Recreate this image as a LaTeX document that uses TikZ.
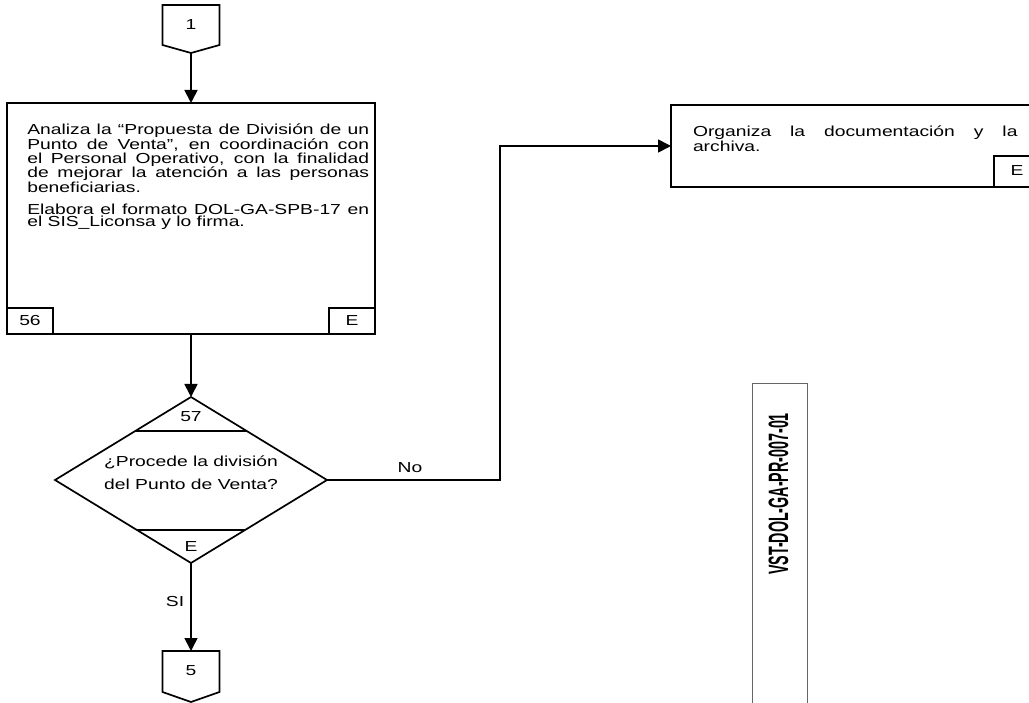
\documentclass[tikz,border=0pt]{standalone}
\usepackage{fontspec}
\setmainfont{Liberation Sans}
\usetikzlibrary{arrows.meta,shapes.geometric}
\newcommand{\hstr}[1]{\scalebox{1.33}[1]{#1}}
\tikzset{
 ln/.style={line width=1.7pt, draw=black, line join=miter},
 arr/.style={ln, -{Triangle[length=13pt,width=13pt]}},
 boxn/.style={ln, rectangle, inner sep=0pt, outer sep=0pt},
 txt/.style={inner sep=0pt, outer sep=0pt, text=black, font=\fontsize{14.5pt}{12pt}\selectfont},
}
\begin{document}
\begin{tikzpicture}[x=1pt,y=-1pt]
\useasboundingbox (0,0) rectangle (1029,703);
\clip (0,0) rectangle (1029,703);
\fill[white] (0,0) rectangle (1029,703);

% off-page connector 1
\draw[ln] (162.5,5) -- (219.5,5) -- (219.5,45) -- (191,53) -- (162.5,45) -- cycle;
\coordinate (c1) at (191,53);
\node[txt] (c1t) at (191,25) {\hstr{1}};

% activity 56
\node[boxn, minimum width=368pt, minimum height=231pt] (act) at (191,218.5) {};
\draw[arr] (c1) -- (act.north);
\node[boxn, minimum width=46pt, minimum height=26pt, anchor=south west] (n56) at (act.south west) {};
\node[txt] (n56t) at (n56) {\hstr{56}};
\node[boxn, minimum width=46pt, minimum height=26pt, anchor=south east] (e56) at (act.south east) {};
\node[txt] (e56t) at (e56) {\hstr{E}};
\node[txt, anchor=base west] (actt) at (27.3,135) {\hstr{\parbox[t]{257pt}{%
\makebox[\linewidth][s]{Analiza la “Propuesta de División de un}\\
\makebox[\linewidth][s]{Punto de Venta”, en coordinación con}\\
\makebox[\linewidth][s]{el Personal Operativo, con la finalidad}\\
\makebox[\linewidth][s]{de mejorar la atención a las personas}\\
beneficiarias.\\[10.3pt]
\makebox[\linewidth][s]{Elabora el formato DOL-GA-SPB-17 en}\\
el SIS\_Liconsa y lo firma.}}};

% decision 57
\node[ln, diamond, draw, minimum width=272pt, minimum height=166pt, inner sep=0pt, outer sep=0pt] (dec) at (191,480) {};
\draw[arr] (act.south) -- (dec.north);
\draw[ln] (135.3,431) -- (246.7,431);
\draw[ln] (136.9,530) -- (245.1,530);
\node[txt] (d57) at (191,417) {\hstr{57}};
\node[txt] (dE) at (191,547) {\hstr{E}};
\node[txt, anchor=base] (dect) at (191,466.7) {\hstr{\parbox[t]{200pt}{\fontsize{14.5pt}{23pt}\selectfont\centering
¿Procede la división\\del Punto de Venta?}}};

% off-page connector 5
\draw[ln] (162.5,651) -- (219.5,651) -- (219.5,692) -- (191,702) -- (162.5,692) -- cycle;
\coordinate (c5) at (191,651);
\node[txt] (c5t) at (191,671) {\hstr{5}};
\draw[arr] (dec.south) -- (c5);
\node[txt] (si) at (175,602) {\hstr{SI}};

% right activity
\node[boxn, minimum width=374pt, minimum height=82pt] (org) at (858,146) {};
\node[boxn, minimum width=51pt, minimum height=31pt, anchor=south east] (eorg) at (org.south east) {};
\node[txt] (eorgt) at (1017,171) {\hstr{E}};
\node[txt, anchor=base west] (orgt) at (693,136.7) {\hstr{\parbox[t]{244pt}{%
\makebox[\linewidth][s]{Organiza la documentación y la}\\archiva.}}};

% No branch
\coordinate (nb) at (500,480);
\draw[arr] (dec.east) -- (nb) |- (org.west);
\node[txt] (no) at (410,468) {\hstr{No}};

% document code
\node[draw=black!60, line width=0.8pt, minimum width=55pt, minimum height=327pt, inner sep=0pt] (vb) at (779.5,546.5) {};
\node[rotate=90, inner sep=0pt] (code) at (778.5,494) {\scalebox{0.51}[1]{\fontsize{28pt}{28pt}\selectfont\bfseries VST-DOL-GA-PR-007-01}};
\end{tikzpicture}
\end{document}
